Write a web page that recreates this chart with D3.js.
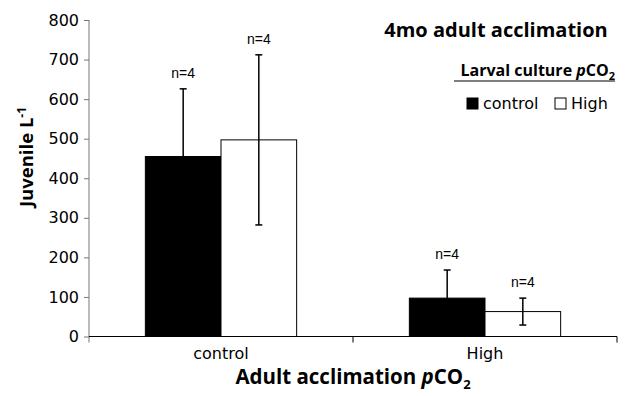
<!DOCTYPE html>
<html>
<head>
<meta charset="utf-8">
<script src="https://cdnjs.cloudflare.com/ajax/libs/d3/7.8.5/d3.min.js"></script>
<style>
  body { margin: 0; background: #fff; }
  svg { display: block; }
  text { fill: #000; }
</style>
</head>
<body>
<svg id="chart" width="640" height="396"></svg>
<script>
// data
var categories = ["control", "High"];        // adult acclimation pCO2
var series = ["control", "High"];            // larval culture pCO2
var meanControl = [455, 497];
var meanHigh = [97, 63];
var sdControl = [171, 215];
var sdHigh = [71, 34];
var nLabels = ["n=4", "n=4", "n=4", "n=4"];
var yTicks = [0, 100, 200, 300, 400, 500, 600, 700, 800];
var fills = ["#000", "#fff"];

var svg = d3.select("#chart");
var plotL = 89, plotR = 617, plotT = 20, plotB = 336.5;

var x0 = d3.scaleBand().domain(categories).range([plotL, plotR]);
var x1 = d3.scaleBand().domain(series).range([0, x0.bandwidth()]).paddingOuter(0.745);
var y = d3.scaleLinear().domain([0, 800]).range([plotB, plotT]);

var rows = [];
[meanControl, meanHigh].forEach(function(means, ci) {
  var sds = ci == 0 ? sdControl : sdHigh;
  means.forEach(function(m, si) {
    rows.push({cat: categories[ci], ser: series[si], v: m, sd: sds[si], i: si});
  });
});

// y axis (grey in the original)
var yAxis = svg.append("g").attr("transform", "translate(" + plotL + ",0)")
    .call(d3.axisLeft(y).tickValues(yTicks).tickSize(5).tickPadding(5));
yAxis.selectAll("text").style("font", "16px 'DejaVu Sans', sans-serif").attr("fill", "#000");
yAxis.selectAll("line").attr("stroke", "#777");
yAxis.select(".domain").attr("stroke", "#777").attr("d", "M0," + plotT + "V" + (plotB + 6));

// bars
svg.append("g").selectAll("rect").data(rows).enter().append("rect")
    .attr("x", function(d) { return x0(d.cat) + x1(d.ser); })
    .attr("y", function(d) { return y(d.v); })
    .attr("width", x1.bandwidth())
    .attr("height", function(d) { return plotB - y(d.v); })
    .attr("fill", function(d) { return fills[d.i]; })
    .attr("stroke", "#000")
    .attr("stroke-width", 1);

// error bars
var eb = svg.append("g").attr("stroke", "#000").attr("stroke-width", 1.5);
rows.forEach(function(d, k) {
  var cx = x0(d.cat) + x1(d.ser) + x1.bandwidth() / 2;
  var hi = y(d.v + d.sd), lo = y(d.v - d.sd);
  eb.append("line").attr("x1", cx).attr("x2", cx).attr("y1", hi).attr("y2", lo);
  eb.append("line").attr("x1", cx - 3.5).attr("x2", cx + 3.5).attr("y1", hi).attr("y2", hi);
  eb.append("line").attr("x1", cx - 3.5).attr("x2", cx + 3.5).attr("y1", lo).attr("y2", lo);
  svg.append("text").attr("x", cx).attr("y", hi - 11)
      .attr("text-anchor", "middle")
      .style("font", "14px 'Liberation Sans', Arial, sans-serif")
      .text(nLabels[k]);
});

// x axis
var xAxis = svg.append("g").attr("transform", "translate(0," + plotB + ")");
xAxis.append("line").attr("x1", plotL).attr("x2", plotR).attr("stroke", "#000");
[plotL + x0.bandwidth(), plotR].forEach(function(t) {
  xAxis.append("line").attr("x1", t).attr("x2", t).attr("y1", 0).attr("y2", 6).attr("stroke", "#000");
});
xAxis.selectAll("text.cat").data(categories).enter().append("text")
    .attr("class", "cat")
    .attr("x", function(d) { return x0(d) + x0.bandwidth() / 2; })
    .attr("y", 22)
    .attr("text-anchor", "middle")
    .style("font", "16px 'DejaVu Sans', sans-serif")
    .text(function(d) { return d; });

// axis titles
var xt = svg.append("text").attr("x", 353).attr("y", 384).attr("text-anchor", "middle")
    .style("font", "bold 20.5px 'Open Sans', sans-serif");
xt.append("tspan").text("Adult acclimation ");
xt.append("tspan").style("font-style", "italic").text("p");
xt.append("tspan").text("CO");
xt.append("tspan").attr("dy", 5).style("font-size", "13px").text("2");

var yt = svg.append("text").attr("transform", "translate(33,157) rotate(-90)")
    .attr("text-anchor", "middle")
    .style("font", "bold 18.5px 'Open Sans', sans-serif");
yt.append("tspan").text("Juvenile L");
yt.append("tspan").attr("dy", -7).style("font-size", "12px").text("-1");

// title
svg.append("text").attr("x", 496).attr("y", 37).attr("text-anchor", "middle")
    .style("font", "bold 20px 'Open Sans', sans-serif")
    .text("4mo adult acclimation");

// legend
var lt = svg.append("text").attr("x", 615).attr("y", 76).attr("text-anchor", "end")
    .style("font", "bold 16px 'Open Sans', sans-serif");
lt.append("tspan").text("Larval culture ");
lt.append("tspan").style("font-style", "italic").text("p");
lt.append("tspan").text("CO");
lt.append("tspan").attr("dy", 4).style("font-size", "11px").text("2");
svg.append("line").attr("x1", 454).attr("x2", 615).attr("y1", 81).attr("y2", 81)
    .attr("stroke", "#000").attr("stroke-width", 1.2);

var legX = [467, 555];
var leg = svg.append("g").selectAll("g").data(series).enter().append("g")
    .attr("transform", function(d, i) { return "translate(" + legX[i] + ",98)"; });
leg.append("rect").attr("width", 11).attr("height", 11)
    .attr("fill", function(d, i) { return fills[i]; })
    .attr("stroke", "#000").attr("stroke-width", 1);
leg.append("text").attr("x", 16).attr("y", 11)
    .style("font", "16px 'DejaVu Sans', sans-serif")
    .text(function(d) { return d; });
</script>
</body>
</html>
